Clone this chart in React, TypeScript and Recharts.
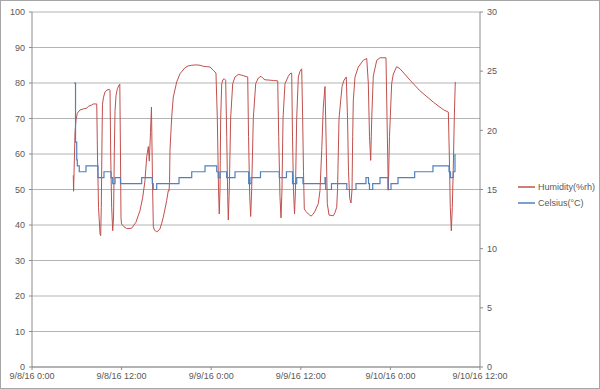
import React from 'react';
import { LineChart, Line, XAxis, YAxis, CartesianGrid } from 'recharts';

// hours since 9/8/16 0:00
const humidityHours = [
  5.53, 5.57, 5.67, 5.76, 5.89, 6.07, 6.43, 6.87, 7.33, 7.54, 8.0, 8.21, 8.67,
  8.77, 8.91, 9.11, 9.2, 9.28, 9.38, 9.44, 9.58, 9.78, 10.04, 10.35, 10.45,
  10.54, 10.67, 10.81, 10.92, 11.02, 11.12, 11.25, 11.45, 11.69, 11.76,
  11.85, 11.92, 11.99, 12.32, 12.68, 12.99, 13.35, 13.66, 13.93, 14.2, 14.46, 14.83, 15.13, 15.36, 15.58, 15.71, 15.87, 16.0, 16.14, 16.25,
  16.41, 16.7, 16.88, 17.14, 17.37, 17.58, 17.81, 18.04, 18.25, 18.35, 18.42, 18.48, 18.71, 18.92, 19.38, 19.82, 20.49, 20.89, 21.39, 21.96, 22.5, 22.94, 23.4, 23.84, 24.28, 24.64,
  24.82, 24.98, 25.08, 25.18, 25.27, 25.41, 25.58, 25.75, 25.94,
  26.08, 26.21, 26.29, 26.42, 26.61, 26.88, 27.19, 27.63, 28.09, 28.53, 28.89,
  29.0, 29.16, 29.29, 29.42, 29.64, 29.96, 30.31, 30.67, 30.94, 31.21, 31.88, 32.32, 32.91,
  33.04, 33.21, 33.35, 33.48, 33.62, 33.88, 34.33, 34.55, 34.78,
  34.89, 35.02, 35.16, 35.29, 35.45, 35.67, 35.89, 36.12,
  36.25, 36.36, 36.47, 36.7, 37.01, 37.37, 37.63, 37.9, 38.34, 38.57, 38.8, 39.01, 39.24,
  39.38, 39.55, 39.78, 40.05, 40.35, 40.58, 40.81, 40.92, 41.12, 41.52, 41.79, 42.09,
  42.26, 42.39, 42.55, 42.72, 42.86, 42.95, 43.03, 43.26, 43.7, 44.37, 44.83,
  45.04, 45.2, 45.36, 45.5, 45.71, 46.17, 46.61, 47.41,
  47.55, 47.72, 47.88, 48.17, 48.39, 48.84, 49.29, 50.63, 51.96, 53.75, 55.08, 55.76,
  55.89, 56.02, 56.16, 56.29, 56.42, 56.56, 56.69,
];
const humidityValues = [
  54, 49.5, 58, 66, 69.6, 71.5, 72.4, 72.7, 72.9, 73.4, 73.8, 74.1, 74.1,
  60, 45, 37.5, 37, 45, 65, 74, 76, 77.5, 78, 78.2, 78,
  60, 45, 38.4, 42, 60, 72, 76.5, 78.5, 79.5, 79.7,
  60, 42, 40.3, 39.5, 39, 39, 39.1, 40, 40.8, 42.5, 44, 47.8, 52.5, 59.2, 62.1, 58, 66, 73.2, 52, 39.5,
  38.5, 38.1, 38.3, 38.9, 40.5, 42.2, 44.5, 46.9, 49.7, 49.5, 52, 61, 70.4, 76, 80.3, 82.6, 84.3, 84.8, 85, 85.1, 85, 84.7, 84.6, 84.5, 83.6, 82.8,
  70, 50, 43.1, 50, 70, 79.8, 81, 81.2, 80.8,
  65, 48, 41.4, 50, 70.4, 79.8, 81.7, 82.4, 82.2, 81.9, 81.7,
  65, 48, 42.4, 50, 70, 79.8, 81.4, 81.9, 81.3, 80.9, 80.8, 80.7, 80.6,
  65, 48, 42, 50, 70, 79.8, 81.9, 82.6, 82.8,
  65, 50, 43.1, 50, 70, 81.7, 83.3, 84,
  70, 55, 44.5, 43.8, 43.1, 42.5, 43, 43.9, 46, 49.7, 61, 73, 79,
  65, 46, 42.8, 42.7, 42.6, 43.5, 45, 50, 70, 79, 80.8, 81.7,
  70, 55, 47.5, 46.2, 50, 65, 75, 81.7, 84.5, 86.4, 86.9,
  80, 65, 58.2, 70, 82, 86.4, 87.1, 87.1,
  70, 49.8, 65, 79.8, 82.5, 84.6, 84, 80.8, 77.8, 74.6, 72.5, 71.8,
  60, 45, 38.4, 45, 56, 70.4, 80.3,
];

const celsiusHours = [
  5.62, 5.83, 5.99, 6.07, 6.33, 7.23, 8.84, 9.64, 10.58, 10.81, 11.12, 11.85,
  14.69, 16.11, 16.24, 16.7, 19.69, 21.39, 23.17, 24.74, 24.95, 25.18, 26.07,
  27.19, 29.02, 29.33, 30.6, 33.12, 34.08, 34.89, 35.45, 36.29, 39.24, 39.33,
  40.11, 42.16, 43.39, 44.73, 45.07, 45.2, 45.63, 46.61, 47.68, 48.08, 49.02,
  51.25, 53.7, 55.85, 56.05, 56.42, 56.65,
];
const celsiusValues = [
  24, 19, 17.5, 17, 16.5, 17, 16, 16.5, 16, 15.5, 16, 15.5,
  16, 15.5, 15, 15.5, 16, 16.5, 17, 16.5, 16, 16.5, 16,
  16.5, 15.5, 16, 16.5, 16, 16.5, 15.5, 16, 15.5, 16, 15,
  15.5, 15, 15.5, 16, 15.5, 15, 15.5, 16, 15, 15.5, 16,
  16.5, 17, 16.5, 16, 16.5, 18,
];

const xTicks = [0, 12, 24, 36, 48, 60];
const xTickLabels = ['9/8/16 0:00', '9/8/16 12:00', '9/9/16 0:00', '9/9/16 12:00', '9/10/16 0:00', '9/10/16 12:00'];
const humidityTicks = [0, 10, 20, 30, 40, 50, 60, 70, 80, 90, 100];
const celsiusTicks = [0, 5, 10, 15, 20, 25, 30];
const seriesNames = ['Humidity(%rh)', 'Celsius(°C)'];

const RED = '#C0504D';
const BLUE = '#4F81BD';
const AXIS = '#8C8C8C';
const TEXT = '#595959';
const FONT = '"Liberation Sans", Arial, sans-serif';

const humidityData = humidityHours.map((h, i) => ({ h, humidity: humidityValues[i] }));
const celsiusData = celsiusHours.map((h, i) => ({ h, celsius: celsiusValues[i] }));

const tickStyle = { fill: TEXT, fontSize: 9, fontFamily: FONT };

export default function App() {
  return (
    <div style={{ position: 'absolute', left: 0, top: 0, width: 600, height: 389, background: '#fff', fontFamily: FONT }}>
      <LineChart width={600} height={389} margin={{ top: 12, right: 0, bottom: 0, left: 0 }}>
        <CartesianGrid yAxisId="left" vertical={false} stroke="#B4B4B4" ticks={humidityTicks} />
        <XAxis
          dataKey="h"
          type="number"
          domain={[0, 60]}
          ticks={xTicks}
          tickFormatter={(v: number) => xTickLabels[xTicks.indexOf(v)]}
          allowDataOverflow
          height={22}
          stroke={AXIS}
          tickSize={3}
          tickMargin={3}
          tick={tickStyle}
          interval={0}
        />
        <YAxis
          yAxisId="left"
          domain={[0, 100]}
          ticks={humidityTicks}
          width={32}
          stroke={AXIS}
          tickSize={3}
          tickMargin={4}
          tick={tickStyle}
          interval={0}
        />
        <YAxis
          yAxisId="right"
          orientation="right"
          domain={[0, 30]}
          ticks={celsiusTicks}
          width={120}
          stroke={AXIS}
          tickSize={3}
          tickMargin={4}
          tick={tickStyle}
          interval={0}
        />
        <Line
          yAxisId="left"
          data={humidityData}
          dataKey="humidity"
          name={seriesNames[0]}
          type="linear"
          stroke={RED}
          strokeWidth={1}
          dot={false}
          activeDot={false}
          isAnimationActive={false}
        />
        <Line
          yAxisId="right"
          data={celsiusData}
          dataKey="celsius"
          name={seriesNames[1]}
          type="stepAfter"
          stroke={BLUE}
          strokeWidth={1.2}
          dot={false}
          activeDot={false}
          isAnimationActive={false}
        />
      </LineChart>
      <div style={{ position: 'absolute', left: 518, top: 179, fontSize: 9, color: TEXT, lineHeight: '16px' }}>
        {seriesNames.map((name, i) => (
          <div key={name} style={{ display: 'flex', alignItems: 'center', height: 16 }}>
            <svg width={18} height={4} style={{ marginRight: 2 }}>
              <line x1={0} y1={2} x2={17} y2={2} stroke={i === 0 ? RED : BLUE} strokeWidth={1.5} />
            </svg>
            <span>{name}</span>
          </div>
        ))}
      </div>
      <div style={{ position: 'absolute', left: 0, top: 0, width: 598, height: 387, border: '1px solid #A6A6A6', pointerEvents: 'none' }} />
    </div>
  );
}
